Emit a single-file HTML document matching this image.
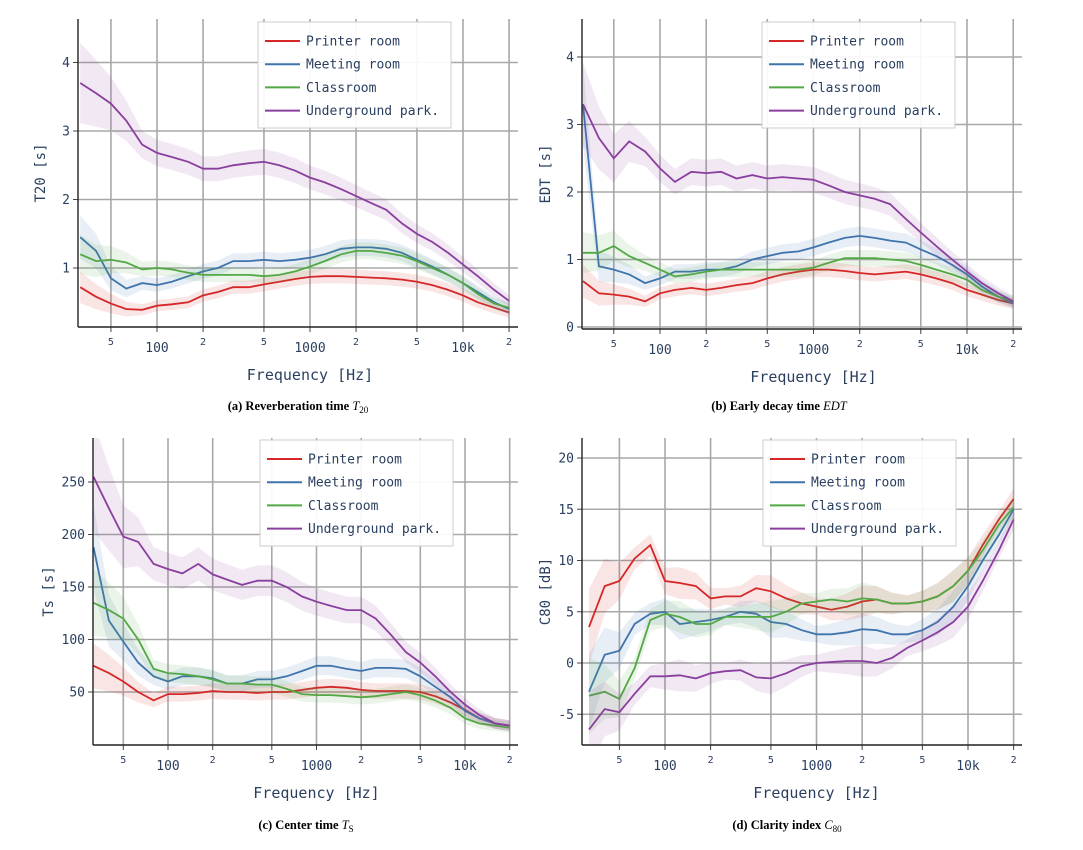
<!DOCTYPE html>
<html><head><meta charset="utf-8"><style>
body{margin:0;background:#fff;}
svg text{font-family:"DejaVu Sans Mono","Liberation Mono",monospace;fill:#2a3f5f;}
.cap{font-family:"Liberation Serif",serif;font-weight:bold;fill:#000;font-size:12.5px;}
</style></head><body>
<svg id="s" width="1083" height="845" xmlns="http://www.w3.org/2000/svg"></svg>
<script>
const F=[31.5,40,50,63,80,100,125,160,200,250,315,400,500,630,800,1000,1250,1600,2000,2500,3150,4000,5000,6300,8000,10000,12500,16000,20000];
const C={r:'#d62728',b:'#3f74ad',g:'#52a844',p:'#8a3f9e'};
const panels=[
{L:78,R:518,T:19,B:327,x100:157,dec:153,yl:'T20 [s]',ylx:40,cap:'(a) Reverberation time ',capi:'T',sub:'20',cx:298,cy:410,lg:[258,22],
ticks:[1,2,3,4],y0:[0,336.5],ys:68.5,bw:0.05,
d:{p:[3.7,3.55,3.4,3.15,2.8,2.68,2.62,2.55,2.45,2.45,2.5,2.53,2.55,2.5,2.42,2.32,2.25,2.15,2.05,1.95,1.85,1.65,1.5,1.38,1.22,1.05,0.88,0.68,0.52],
b:[1.45,1.25,0.85,0.7,0.78,0.75,0.8,0.88,0.95,1.0,1.1,1.1,1.12,1.1,1.12,1.15,1.2,1.28,1.3,1.3,1.28,1.22,1.12,1.02,0.9,0.78,0.65,0.5,0.4],
g:[1.2,1.1,1.12,1.08,0.98,1.0,0.98,0.93,0.9,0.9,0.9,0.9,0.88,0.9,0.95,1.02,1.1,1.2,1.25,1.25,1.22,1.18,1.1,1.0,0.9,0.78,0.62,0.48,0.42],
r:[0.72,0.58,0.48,0.4,0.39,0.45,0.47,0.5,0.6,0.65,0.72,0.72,0.76,0.8,0.84,0.87,0.88,0.88,0.87,0.86,0.85,0.83,0.8,0.75,0.68,0.6,0.5,0.42,0.35]}},
{L:582,R:1022,T:19,B:329,x100:660,dec:153.5,yl:'EDT [s]',ylx:545,cap:'(b) Early decay time ',capi:'EDT',sub:'',cx:779,cy:410,lg:[762,22],
ticks:[0,1,2,3,4],y0:[0,327],ys:67.5,bw:0.06,
d:{p:[3.3,2.8,2.5,2.75,2.6,2.35,2.15,2.3,2.28,2.3,2.2,2.25,2.2,2.22,2.2,2.18,2.1,2.0,1.95,1.9,1.82,1.6,1.4,1.2,1.0,0.82,0.65,0.5,0.38],
b:[3.3,0.9,0.85,0.78,0.65,0.72,0.82,0.82,0.85,0.85,0.9,1.0,1.05,1.1,1.12,1.18,1.25,1.32,1.35,1.32,1.28,1.25,1.15,1.05,0.92,0.78,0.6,0.45,0.35],
g:[1.1,1.1,1.2,1.05,0.95,0.85,0.75,0.78,0.82,0.85,0.85,0.85,0.85,0.85,0.85,0.88,0.95,1.02,1.02,1.02,1.0,0.98,0.92,0.85,0.78,0.7,0.55,0.45,0.38],
r:[0.68,0.5,0.48,0.45,0.38,0.5,0.55,0.58,0.55,0.58,0.62,0.65,0.72,0.78,0.82,0.85,0.85,0.83,0.8,0.78,0.8,0.82,0.78,0.72,0.65,0.55,0.48,0.4,0.35]}},
{L:93,R:518,T:438,B:745,x100:168,dec:148.5,yl:'Ts [s]',ylx:48,cap:'(c) Center time ',capi:'T',sub:'S',cx:306,cy:829,lg:[260,440],
ticks:[50,100,150,200,250],y0:[50,692],ys:1.05,bw:0.07,
d:{p:[255,225,198,193,172,167,163,172,162,157,152,156,156,150,141,136,132,128,128,120,105,88,78,65,50,38,28,20,18],
b:[188,118,98,78,65,60,65,65,63,58,58,62,62,65,70,75,75,72,70,73,73,72,65,55,45,32,25,20,18],
g:[135,128,120,100,72,68,67,65,62,58,58,57,57,53,48,47,47,46,45,46,48,50,47,42,35,25,20,18,16],
r:[75,68,60,50,42,48,48,49,51,50,50,49,50,50,52,54,55,54,52,51,51,51,50,46,40,33,25,20,18]}},
{L:582,R:1022,T:438,B:745,x100:665,dec:151.5,yl:'C80 [dB]',ylx:545,cap:'(d) Clarity index ',capi:'C',sub:'80',cx:787,cy:829,lg:[763,440],
ticks:[-5,0,5,10,15,20],y0:[0,663],ys:10.25,bw:0.0,
d:{p:[-6.5,-4.5,-4.8,-3.0,-1.3,-1.3,-1.2,-1.5,-1.0,-0.8,-0.7,-1.4,-1.5,-1.0,-0.3,0,0.1,0.2,0.2,0,0.5,1.5,2.2,3.0,4.0,5.5,8.0,11.0,14.0],
b:[-2.8,0.8,1.2,3.8,4.8,5.0,3.8,4.0,4.2,4.5,5.0,4.8,4.0,3.8,3.2,2.8,2.8,3.0,3.3,3.2,2.8,2.8,3.2,4.0,5.5,7.5,10.0,12.5,15.0],
g:[-3.2,-2.8,-3.5,-0.5,4.2,4.8,4.5,3.8,3.8,4.5,4.5,4.5,4.5,5.0,5.8,6.0,6.2,6.0,6.3,6.2,5.8,5.8,6.0,6.5,7.5,9.0,11.0,13.5,15.2],
r:[3.5,7.5,8.0,10.2,11.5,8.0,7.8,7.5,6.3,6.5,6.5,7.3,7.0,6.3,5.8,5.5,5.2,5.5,6.0,6.2,5.8,5.8,6.0,6.5,7.5,9.0,11.5,14.0,16.0]}}
];
let h='';
panels.forEach((P,pi)=>{
 const X=f=>P.x100+(Math.log10(f)-2)*P.dec;
 const Y=v=>P.y0[1]-(v-P.y0[0])*P.ys;
 h+=`<clipPath id="c${pi}"><rect x="${P.L}" y="${P.T}" width="${P.R-P.L}" height="${P.B-P.T}"/></clipPath>`;
 const gx=[50,100,200,500,1000,2000,5000,10000,20000];
 gx.forEach(f=>{h+=`<line x1="${X(f)}" x2="${X(f)}" y1="${P.T}" y2="${P.B}" stroke="#a8a8a8" stroke-width="1.6"/>`;});
 P.ticks.forEach(t=>{const y=Y(t);if(y<P.B+0.5){h+=`<line x1="${P.L}" x2="${P.R}" y1="${y}" y2="${y}" stroke="#a8a8a8" stroke-width="1.6"/><line x1="${P.L-5}" x2="${P.L}" y1="${y}" y2="${y}" stroke="#444"/><text x="${P.L-8}" y="${y+4.5}" font-size="13" text-anchor="end">${t}</text>`;}});
 const xl=[[50,'5',1],[100,'100',0],[200,'2',1],[500,'5',1],[1000,'1000',0],[2000,'2',1],[5000,'5',1],[10000,'10k',0],[20000,'2',1]];
 xl.forEach(([f,s,sm])=>{h+=`<line x1="${X(f)}" x2="${X(f)}" y1="${P.B}" y2="${P.B+5}" stroke="#444"/><text x="${X(f)}" y="${P.B+(sm?18:25)}" font-size="${sm?10:13}" text-anchor="middle">${s}</text>`;});
 ['r','b','g','p'].forEach(k=>{
  const v=P.d[k];
  const bw=i=>{let b=P.bw>0?Math.abs(v[i])*P.bw+0.015*(P.ticks[P.ticks.length-1]):0.8+Math.abs(3-i%6)*0.25; if(i<4)b*=2.4-i*0.35; return b;};
  let up=v.map((y,i)=>`${X(F[i]).toFixed(1)},${Y(y+bw(i)).toFixed(1)}`);
  let dn=v.map((y,i)=>`${X(F[i]).toFixed(1)},${Y(y-bw(i)).toFixed(1)}`).reverse();
  h+=`<g clip-path="url(#c${pi})"><polygon points="${up.concat(dn).join(' ')}" fill="${C[k]}" fill-opacity="0.12"/>`;
  h+=`<polyline points="${v.map((y,i)=>`${X(F[i]).toFixed(1)},${Y(y).toFixed(1)}`).join(' ')}" fill="none" stroke="${C[k]}" stroke-width="1.8"/></g>`;
 });
 h+=`<line x1="${P.L}" x2="${P.L}" y1="${P.T}" y2="${P.B}" stroke="#222" stroke-width="1.4"/><line x1="${P.L}" x2="${P.R}" y1="${P.B}" y2="${P.B}" stroke="#222" stroke-width="1.4"/>`;
 const [lx,ly]=P.lg;
 h+=`<rect x="${lx}" y="${ly}" width="193" height="106" fill="#fff" fill-opacity="0.92" stroke="#ccc"/>`;
 [['r','Printer room'],['b','Meeting room'],['g','Classroom'],['p','Underground park.']].forEach(([k,s],i)=>{
  const y=ly+19+i*23.2;
  h+=`<line x1="${lx+7}" x2="${lx+42}" y1="${y}" y2="${y}" stroke="${C[k]}" stroke-width="2"/><text x="${lx+48}" y="${y+4.5}" font-size="13">${s}</text>`;
 });
 const cy=(P.T+P.B)/2;
 h+=`<text transform="translate(${P.ylx+5},${cy}) rotate(-90)" font-size="14" text-anchor="middle">${P.yl}</text>`;
 h+=`<text x="${X(1000)}" y="${P.B+53}" font-size="15" text-anchor="middle">Frequency [Hz]</text>`;
 h+=`<text class="cap" x="${P.cx}" y="${P.cy}" text-anchor="middle">${P.cap}<tspan font-style="italic" font-weight="normal">${P.capi}</tspan><tspan font-size="9" font-weight="normal" dy="3">${P.sub}</tspan></text>`;
});
document.getElementById('s').innerHTML=h;
</script>
</body></html>
